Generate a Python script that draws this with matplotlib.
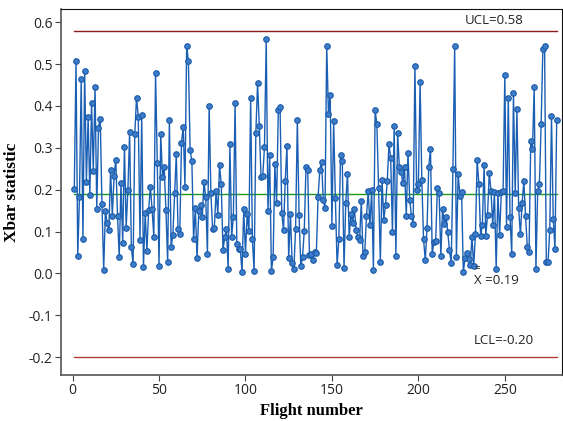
"""
Xbar control chart of flight data: subgroup means per flight with UCL, centre line and LCL.
"""
import numpy as np
import matplotlib
matplotlib.use('Agg')
import matplotlib.pyplot as plt

# Xbar values read per flight (1..280)
xbar = [0.202, 0.507, 0.042, 0.183, 0.465, 0.081, 0.484, 0.219, 0.373, 0.188,
        0.406, 0.244, 0.446, 0.154, 0.348, 0.370, 0.166, 0.009, 0.150, 0.121,
        0.104, 0.247, 0.137, 0.233, 0.271, 0.137, 0.040, 0.216, 0.073, 0.303,
        0.109, 0.199, 0.337, 0.062, 0.022, 0.334, 0.420, 0.374, 0.080,
        0.378, 0.015, 0.144, 0.053, 0.151, 0.207, 0.153, 0.087, 0.479, 0.264, 0.018, 0.333,
        0.230, 0.253, 0.151, 0.027, 0.367, 0.062, 0.091, 0.191, 0.285, 0.105,
        0.095, 0.312, 0.350, 0.207, 0.544, 0.507, 0.294, 0.269, 0.081, 0.156,
        0.036, 0.148, 0.163, 0.135, 0.218, 0.183, 0.047, 0.401,
        0.191, 0.107, 0.109, 0.197, 0.140, 0.258, 0.213, 0.055, 0.087, 0.105,
        0.011, 0.308, 0.087, 0.135, 0.407, 0.071, 0.058, 0.058, 0.003, 0.153,
        0.047, 0.143, 0.101, 0.420, 0.081, 0.006, 0.336, 0.454,
        0.353, 0.230, 0.233, 0.302, 0.559, 0.148, 0.283, 0.006, 0.039, 0.261,
        0.168, 0.390, 0.398, 0.145, 0.103, 0.221, 0.305, 0.036, 0.143, 0.025,
        0.011, 0.106, 0.367, 0.140, 0.018, 0.039, 0.101, 0.254, 0.246,
        0.044, 0.047, 0.031, 0.051, 0.049, 0.183, 0.246, 0.266, 0.176, 0.156,
        0.544, 0.380, 0.426, 0.114, 0.364, 0.179, 0.019, 0.081, 0.283, 0.269,
        0.013, 0.168, 0.238, 0.087, 0.143, 0.120, 0.155,
        0.103, 0.087, 0.079, 0.173, 0.041, 0.051, 0.137, 0.196, 0.115, 0.199,
        0.009, 0.390, 0.356, 0.204, 0.027, 0.224, 0.128, 0.163, 0.221, 0.308,
        0.275, 0.098, 0.353, 0.042, 0.336, 0.254, 0.242,
        0.216, 0.254, 0.137, 0.288, 0.176, 0.137, 0.119, 0.496, 0.199, 0.213,
        0.457, 0.223, 0.081, 0.031, 0.109, 0.254, 0.298, 0.047, 0.075, 0.077,
        0.203, 0.191, 0.042, 0.154, 0.119, 0.135, 0.099, 0.055,
        0.026, 0.250, 0.544, 0.039, 0.238, 0.186, 0.194, 0.003, 0.036, 0.049,
        0.034, 0.019, 0.087, 0.017, 0.093, 0.272, 0.213, 0.089, 0.115, 0.258,
        0.090, 0.140, 0.241, 0.197, 0.115, 0.194, 0.011,
        0.193, 0.092, 0.195, 0.196, 0.473, 0.111, 0.420, 0.135, 0.047, 0.431,
        0.191, 0.392, 0.156, 0.093, 0.167, 0.221, 0.136, 0.063, 0.051, 0.316,
        0.297, 0.446, 0.010, 0.196, 0.214, 0.356, 0.536, 0.544, 0.027, 0.027,
        0.103, 0.375, 0.131, 0.059, 0.366]
flights = np.arange(1, len(xbar) + 1)

ucl = 0.58
center = 0.19
lcl = -0.20

fig = plt.figure(figsize=(5.63, 4.21), dpi=100)
ax = fig.add_axes([0.108, 0.109, 0.89, 0.869])

ax.plot([flights[0], flights[-1]], [ucl, ucl], color='#8b1c1c', lw=1.0)
ax.plot([flights[0], flights[-1]], [lcl, lcl], color='#b03a3a', lw=1.0)
ax.plot([flights[0], flights[-1]], [center, center], color='#1a9a1a', lw=1.0)

ax.plot(flights, xbar, color='#1a5fb4', lw=1.0, marker='o', markersize=4,
        markerfacecolor='#3d7cc9', markeredgecolor='#1a5aa8', markeredgewidth=0.8)

ax.text(227, ucl + 0.008, 'UCL=0.58', fontsize=9.5, color='#222222', family='Open Sans', va='bottom')
# double-bar X for the grand mean
ax.text(232, -0.016, 'X =0.19', fontsize=9.5, color='#222222', family='Open Sans', va='center')
ax.text(232.3, 0.012, '=', fontsize=7, color='#222222', family='Open Sans', va='center')
ax.text(232, -0.16, 'LCL=-0.20', fontsize=9.5, color='#222222', family='Open Sans', va='center')

ax.set_xlim(-6.8, 283)
ax.set_ylim(-0.243, 0.631)
ax.set_xticks([0, 50, 100, 150, 200, 250])
ax.set_yticks([-0.2, -0.1, 0.0, 0.1, 0.2, 0.3, 0.4, 0.5, 0.6])
ax.set_yticklabels(['-0.2', '-0.1', '0.0', '0.1', '0.2', '0.3', '0.4', '0.5', '0.6'])
for lab in ax.get_xticklabels() + ax.get_yticklabels():
    lab.set_family('Open Sans')
    lab.set_fontsize(10)
    lab.set_color('#222222')
ax.tick_params(direction='out', length=4, pad=2, color='#444444')

ax.set_xlabel('Flight number', family='Liberation Serif', fontweight='bold', fontsize=12, labelpad=3)
ax.set_ylabel('Xbar statistic', family='Liberation Serif', fontweight='bold', fontsize=12.5, labelpad=6)

for s in ['left', 'bottom']:
    ax.spines[s].set_color('#555555')
    ax.spines[s].set_linewidth(1.2)
ax.spines['top'].set_color('#111111')
ax.spines['right'].set_color('#111111')

fig.savefig('out.png', dpi=100)
